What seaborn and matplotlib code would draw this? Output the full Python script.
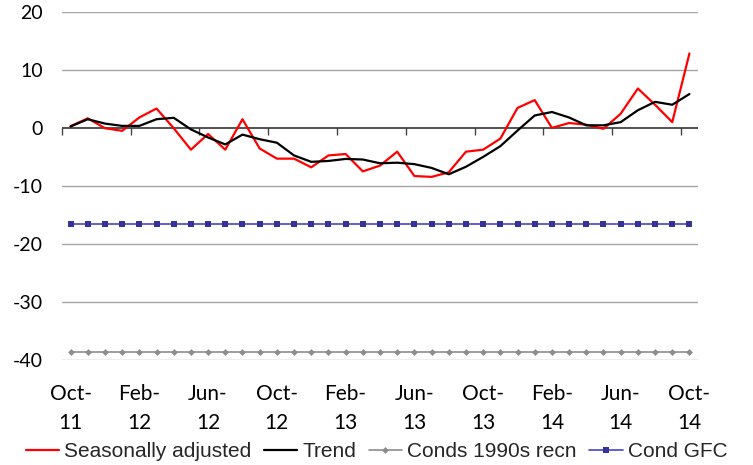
#!/usr/bin/env python3
"""Line chart: conditions index, seasonally adjusted vs trend, Oct-11 to Oct-14."""
import matplotlib

matplotlib.use("Agg")
import matplotlib.pyplot as plt
import numpy as np
import pandas as pd
import seaborn as sns

MONTHS = [p.strftime("%b-%y") for p in pd.period_range("2011-10", "2014-10", freq="M")]

SEAS_ADJ = [
    0.35, 1.7, 0.0, -0.45, 1.85, 3.4, 0.0, -3.7, -1.0, -3.7,
    1.55, -3.5, -5.25, -5.25, -6.75, -4.7, -4.45, -7.45, -6.45, -4.05,
    -8.25, -8.4, -7.6, -4.05, -3.7, -1.8, 3.5, 4.85, 0.05, 0.9,
    0.6, -0.1, 2.5, 6.85, 4.05, 1.05, 12.9,
]
TREND = [
    0.3, 1.55, 0.8, 0.4, 0.4, 1.55, 1.8, -0.2, -1.6, -2.8,
    -1.1, -1.9, -2.5, -4.7, -5.8, -5.65, -5.3, -5.4, -6.05, -5.95,
    -6.2, -6.85, -7.95, -6.65, -4.95, -3.1, -0.4, 2.2, 2.8, 1.85,
    0.5, 0.5, 1.05, 3.1, 4.55, 4.05, 5.9,
]
RECN_1990S = [-38.6] * len(MONTHS)
GFC = [-16.6] * len(MONTHS)

TICK_POS = list(range(0, len(MONTHS), 4))
TICK_LABELS = ["Oct-\n11", "Feb-\n12", "Jun-\n12", "Oct-\n12", "Feb-\n13",
               "Jun-\n13", "Oct-\n13", "Feb-\n14", "Jun-\n14", "Oct-\n14"]
Y_TICKS = [20, 10, 0, -10, -20, -30, -40]


def main() -> None:
    sns.set_theme(style="white")
    plt.rcParams["font.family"] = ["Lato", "DejaVu Sans"]
    plt.rcParams["axes.unicode_minus"] = False

    x = np.arange(len(MONTHS))
    fig, ax = plt.subplots(figsize=(7.53, 4.65), dpi=100)
    fig.subplots_adjust(left=0.0823, right=0.927, bottom=0.2258, top=0.9735)

    for yv in Y_TICKS:
        if yv != 0:
            ax.axhline(yv, color="#a6a6a6", lw=1.0, zorder=0)
    ax.axhline(0, color="#222222", lw=1.1, zorder=1)

    sns.lineplot(x=x, y=SEAS_ADJ, ax=ax, color="#ff0000", lw=1.6,
                 label="Seasonally adjusted", zorder=3)
    sns.lineplot(x=x, y=TREND, ax=ax, color="#000000", lw=1.6,
                 label="Trend", zorder=4)
    sns.lineplot(x=x, y=RECN_1990S, ax=ax, color="#8c8c8c", lw=1.2,
                 marker="D", markersize=3.5, markeredgewidth=0,
                 label="Conds 1990s recn", zorder=2)
    sns.lineplot(x=x, y=GFC, ax=ax, color="#4646c0", lw=1.2,
                 marker="s", markersize=5, markerfacecolor="#333399",
                 markeredgewidth=0, label="Cond GFC", zorder=2)

    ax.set_xlim(-0.5, len(MONTHS) - 0.5)
    ax.set_ylim(-40, 20)
    ax.set_yticks(Y_TICKS)
    ax.set_xticks(TICK_POS)
    ax.set_xticklabels(TICK_LABELS, linespacing=1.6)
    ax.tick_params(axis="y", length=0, pad=13.5, labelsize=14, labelcolor="black")
    ax.tick_params(axis="x", length=0, pad=17, labelsize=15, labelcolor="black")
    for side in ["top", "right", "left", "bottom"]:
        ax.spines[side].set_visible(False)
    ax.set_xlabel("")
    ax.set_ylabel("")

    # category-boundary tick marks sitting on the zero line
    sec = ax.secondary_xaxis(2 / 3)
    sec.set_xticks([p - 0.5 for p in TICK_POS[:-1]] + [len(MONTHS) - 1.5])
    sec.tick_params(axis="x", direction="in", length=5, width=1,
                    color="#444444", labelbottom=False, labeltop=False)
    sec.spines["bottom"].set_visible(False)
    sec.spines["top"].set_visible(False)

    ax.get_legend().remove()
    handles, labels = ax.get_legend_handles_labels()
    fig.legend(handles, labels, loc="center", bbox_to_anchor=(0.5, 0.028),
               ncol=4, frameon=False, handlelength=1.6, handletextpad=0.25,
               columnspacing=0.6, borderaxespad=0,
               prop={"family": "Liberation Sans", "size": 15})

    fig.savefig("out.png", dpi=100)


if __name__ == "__main__":
    main()
